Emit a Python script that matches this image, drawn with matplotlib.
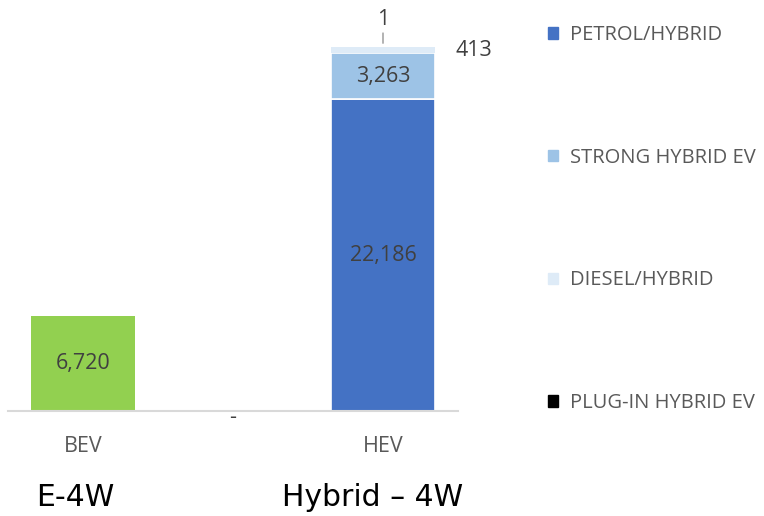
import matplotlib.pyplot as plt
from matplotlib.patches import Patch

# data
categories = ['BEV', '', 'HEV']
bev = [6720, 0, 0]
petrol = [0, 0, 22186]
strong = [0, 0, 3263]
diesel = [0, 0, 413]
plugin = [0, 0, 1]
groups = ['E-4W', 'Hybrid \u2013 4W']

plt.rcParams['font.family'] = ['Open Sans', 'DejaVu Sans']

fig = plt.figure(figsize=(7.64, 5.16), dpi=100)
ax = fig.add_axes([8/764, 105/516, 450/764, 406/516])

x = range(len(categories))
w = 0.69
ax.bar(x, bev, w, color='#92D050')
ax.bar(x, petrol, w, color='#4472C4', edgecolor='white', linewidth=1.2)
b1 = [p for p in petrol]
ax.bar(x, strong, w, bottom=b1, color='#9DC3E6', edgecolor='white', linewidth=1.2)
b2 = [p + s for p, s in zip(petrol, strong)]
ax.bar(x, diesel, w, bottom=b2, color='#DEEBF7', edgecolor='none')
b3 = [a + d for a, d in zip(b2, diesel)]
ax.bar(x, plugin, w, bottom=b3, color='black', edgecolor='none')

ax.set_xlim(-0.5, 2.5)
ax.set_ylim(0, 406 / 312 * 22186)

lab = '#404040'
fs = 15.5
ax.text(0, bev[0] / 2, f'{bev[0]:,}', ha='center', va='center', color=lab, fontsize=fs)
ax.text(2, petrol[2] / 2, f'{petrol[2]:,}', ha='center', va='center', color=lab, fontsize=fs)
ax.text(2, b1[2] + strong[2] / 2, f'{strong[2]:,}', ha='center', va='center', color=lab, fontsize=fs)
ax.text(2.48, b2[2] + diesel[2] / 2, f'{diesel[2]:,}', ha='left', va='center', color=lab, fontsize=fs)
ax.annotate(f'{plugin[2]:,}', xy=(2, b3[2] + 300), xytext=(2, b3[2] + 1950),
            ha='center', va='center', color=lab, fontsize=fs,
            arrowprops=dict(arrowstyle='-', color='#A6A6A6', lw=1.2, shrinkA=9, shrinkB=0))
ax.text(1, -450, '-', ha='center', va='center', color=lab, fontsize=fs)

for s in ['top', 'right', 'left']:
    ax.spines[s].set_visible(False)
ax.spines['bottom'].set_color('#D9D9D9')
ax.spines['bottom'].set_linewidth(1.5)
ax.set_yticks([])
ax.set_xticks(list(x))
ax.set_xticklabels(categories, color='#595959', fontsize=fs)
ax.tick_params(axis='x', length=0, pad=18)

handles = [Patch(color='#4472C4'), Patch(color='#9DC3E6'),
           Patch(color='#DEEBF7'), Patch(color='black')]
names = ['PETROL/HYBRID', 'STRONG HYBRID EV', 'DIESEL/HYBRID', 'PLUG-IN HYBRID EV']
leg = fig.legend(handles, names, loc='upper left', bbox_to_anchor=(540/764, 1 - 17/516),
                 frameon=False, fontsize=14.5, labelspacing=5.1, handlelength=0.5,
                 handleheight=0.5, handletextpad=0.6, borderaxespad=0)
for t in leg.get_texts():
    t.set_color('#595959')

fig.text(75/764, 1 - 498/516, groups[0], ha='center', va='center', fontsize=21.5,
         family=['DejaVu Sans'])
fig.text(373/764, 1 - 498/516, groups[1], ha='center', va='center', fontsize=21.5,
         family=['DejaVu Sans'])

plt.savefig('out.png')
